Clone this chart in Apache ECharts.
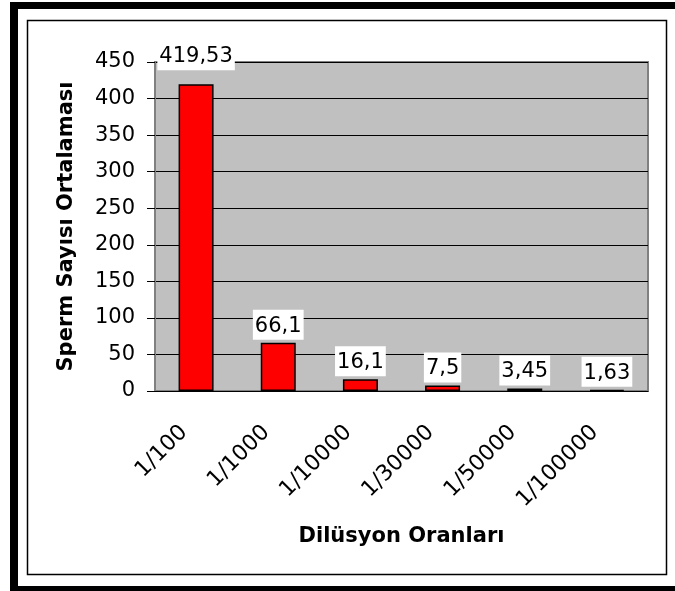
<!DOCTYPE html>
<html lang="tr">
<head>
  <meta charset="UTF-8">
  <title>Sperm Sayısı Ortalaması</title>
  <script src="https://cdn.jsdelivr.net/npm/echarts@6/dist/echarts.min.js"></script>
  <style>
    body { margin: 0; background: #fff; }
    #main { width: 675px; height: 591px; }
  </style>
</head>
<body>
  <div id="main"></div>
  <script>
    var categories = ['1/100', '1/1000', '1/10000', '1/30000', '1/50000', '1/100000']
    var values = [419.53, 66.1, 16.1, 7.5, 3.45, 1.63]
    var yTicks = [0, 50, 100, 150, 200, 250, 300, 350, 400, 450]

    var font = 'DejaVu Sans'
    var mCharts = echarts.init(document.getElementById('main'))

    // etiketler virgüllü ondalık
    function trNum(v) {
      return String(v).replace('.', ',')
    }

    var barData = values.map(function (v, i) {
      var item = { value: v }
      if (i === 0) item.label = { distance: 14 }
      return item
    })

    var option = {
      backgroundColor: '#fff',
      animation: false,
      grid: {
        left: 155, right: 27, top: 62, bottom: 200,
        show: true,
        backgroundColor: '#c0c0c0',
        borderColor: '#808080',
        borderWidth: 2
      },
      xAxis: {
        type: 'category',
        data: categories,
        name: 'Dilüsyon Oranları',
        nameLocation: 'middle',
        nameGap: 135,
        nameTextStyle: { fontFamily: font, fontWeight: 'bold', fontSize: 21, color: '#000' },
        axisLine: { lineStyle: { color: '#000', width: 1 } },
        axisTick: { length: 6, lineStyle: { color: '#000' } },
        axisLabel: { rotate: 45, margin: 26, padding: [0, 17, 0, 0], fontFamily: font, fontSize: 22, color: '#000' }
      },
      yAxis: {
        type: 'value',
        min: yTicks[0],
        max: yTicks[yTicks.length - 1],
        interval: 50,
        name: 'Sperm Sayısı Ortalaması',
        nameLocation: 'middle',
        nameGap: 78,
        nameTextStyle: { fontFamily: font, fontWeight: 'bold', fontSize: 21, color: '#000' },
        axisLine: { show: true, lineStyle: { color: '#808080', width: 2 } },
        axisTick: { show: true, length: 8, lineStyle: { color: '#000' } },
        axisLabel: { margin: 20, fontFamily: font, fontSize: 21, color: '#000' },
        splitLine: { lineStyle: { color: '#000', width: 1 } }
      },
      series: [
        {
          type: 'bar',
          data: barData,
          barWidth: 35,
          itemStyle: { color: '#ff0000', borderColor: '#000', borderWidth: 1.5 },
          label: {
            show: true,
            position: 'top',
            distance: 3,
            formatter: function (p) { return trNum(p.value) },
            fontFamily: font,
            fontSize: 21,
            color: '#000',
            backgroundColor: '#fff',
            padding: [6, 2, 3, 2]
          }
        }
      ],
      graphic: [
        // dış siyah çerçeve
        { type: 'rect', shape: { x: 10, y: 2, width: 665, height: 7 }, style: { fill: '#000' } },
        { type: 'rect', shape: { x: 10, y: 2, width: 8, height: 589 }, style: { fill: '#000' } },
        { type: 'rect', shape: { x: 10, y: 586, width: 665, height: 5 }, style: { fill: '#000' } },
        // iç ince çerçeve
        { type: 'rect', shape: { x: 27.5, y: 20.5, width: 639, height: 554 }, style: { fill: null, stroke: '#000', lineWidth: 1.5 } }
      ]
    }
    mCharts.setOption(option)
  </script>
</body>
</html>
